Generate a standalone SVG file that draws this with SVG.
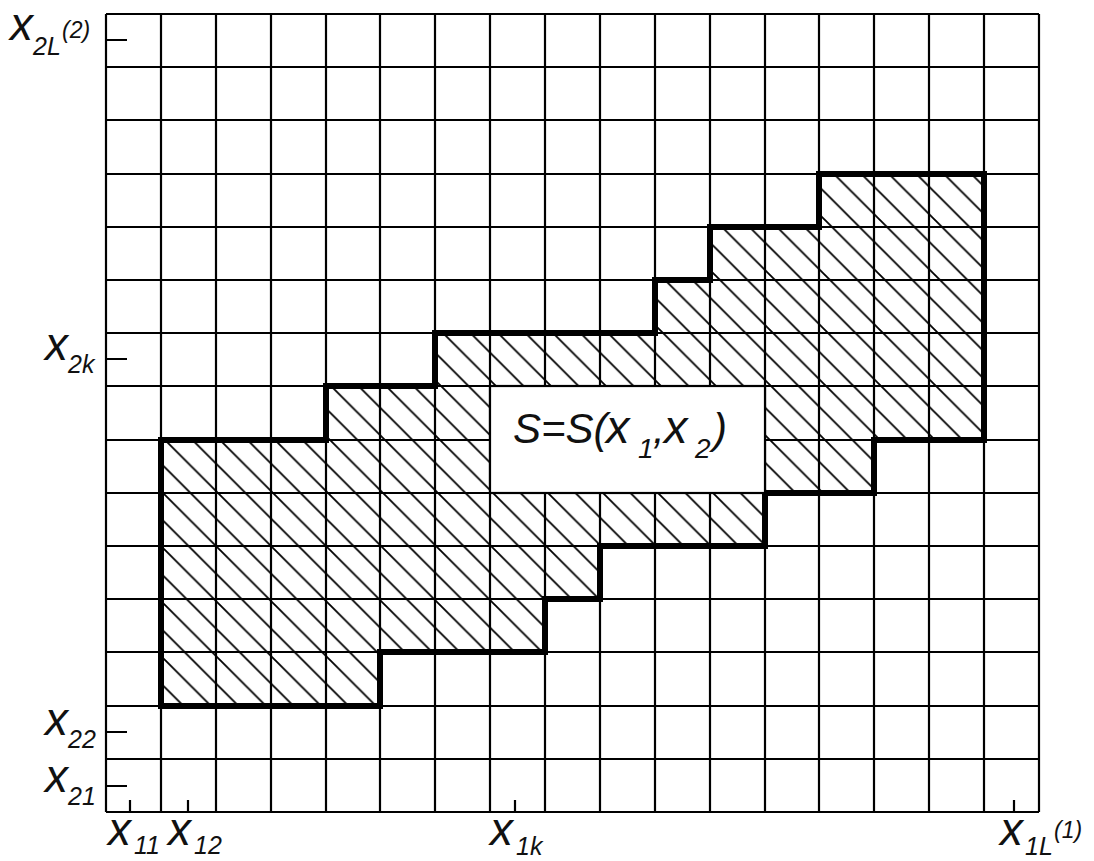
<svg xmlns="http://www.w3.org/2000/svg" width="1094" height="861" viewBox="0 0 1094 861">
<style>
.grid{fill:none;stroke:#000;stroke-width:2.2}
.outline{fill:none;stroke:#000;stroke-width:6;stroke-linejoin:miter}
.tick{fill:none;stroke:#000;stroke-width:2.2}
.lbl{font-family:"Liberation Sans",Arial,sans-serif;font-style:italic;fill:#111}
.big{font-size:46px}
.sub{font-size:25px}
.sup{font-size:23px}
.main{font-size:42px}
.mx{font-size:47px}
.msub{font-size:28px}
</style>
<defs>
<pattern id="hatch" patternUnits="userSpaceOnUse" x="165" y="440" width="27.5" height="27.5">
<path d="M0,0 L27.5,27.5 M-3,24.5 L3,30.5 M24.5,-3 L30.5,3" stroke="#000" stroke-width="1.8" fill="none"/>
</pattern>
</defs>
<rect width="1094" height="861" fill="#fff"/>
<g id="region-fill">
<polygon fill="url(#hatch)" points="161,440 161,706 380,706 380,652 545,652 545,599 600,599 600,546 765,546 765,493 874,493 874,440 984,440 984,174 819,174 819,227 710,227 710,280 655,280 655,333 435,333 435,386 326,386 326,440"/>
</g>
<g id="grid">
<path class="grid" d="M106,14V812M161,14V812M216,14V812M271,14V812M326,14V812M380,14V812M435,14V812M490,14V812M545,14V812M600,14V812M655,14V812M710,14V812M765,14V812M819,14V812M874,14V812M929,14V812M984,14V812M1039,14V812
M106,14H1039M106,67H1039M106,120H1039M106,174H1039M106,227H1039M106,280H1039M106,333H1039M106,386H1039M106,440H1039M106,493H1039M106,546H1039M106,599H1039M106,652H1039M106,706H1039M106,759H1039M106,812H1039"/>
</g>
<g id="region-outline">
<polygon class="outline" points="161,440 161,706 380,706 380,652 545,652 545,599 600,599 600,546 765,546 765,493 874,493 874,440 984,440 984,174 819,174 819,227 710,227 710,280 655,280 655,333 435,333 435,386 326,386 326,440"/>
</g>
<g id="label-box">
<rect x="490" y="386" width="275" height="107" fill="#fff" stroke="#000" stroke-width="2.2"/>
<text class="lbl main" x="513" y="443">S=S(<tspan class="mx" x="606">x</tspan><tspan class="msub" x="638" y="458">1</tspan><tspan x="653" y="443">,</tspan><tspan class="mx" x="664" y="443">x</tspan><tspan class="msub" x="695" y="458">2</tspan><tspan x="713" y="443">)</tspan></text>
</g>
<g id="ticks">
<path class="tick" d="M106,40H127M106,359H127M106,732H127M106,786H127M130,812V800M188,812V800M515,812V800M1014,812V800"/>
</g>
<g id="label-x2L">
<text class="lbl big" x="10" y="40">x<tspan class="sub" x="33" y="55">2L</tspan><tspan class="sup" x="62" y="38">(2)</tspan></text>
</g>
<g id="label-x2k">
<text class="lbl big" x="45" y="360">x<tspan class="sub" x="68" y="373">2k</tspan></text>
</g>
<g id="label-x22">
<text class="lbl big" x="45" y="735">x<tspan class="sub" x="68" y="748">22</tspan></text>
</g>
<g id="label-x21">
<text class="lbl big" x="45" y="792">x<tspan class="sub" x="68" y="805">21</tspan></text>
</g>
<g id="label-x11">
<text class="lbl big" x="108" y="845">x<tspan class="sub" x="134" y="854">11</tspan></text>
</g>
<g id="label-x12">
<text class="lbl big" x="168" y="845">x<tspan class="sub" x="194" y="854">12</tspan></text>
</g>
<g id="label-x1k">
<text class="lbl big" x="490" y="845">x<tspan class="sub" x="516" y="855">1k</tspan></text>
</g>
<g id="label-x1L">
<text class="lbl big" x="1000" y="845">x<tspan class="sub" x="1025" y="855">1L</tspan><tspan class="sup" x="1054" y="838">(1)</tspan></text>
</g>
</svg>
